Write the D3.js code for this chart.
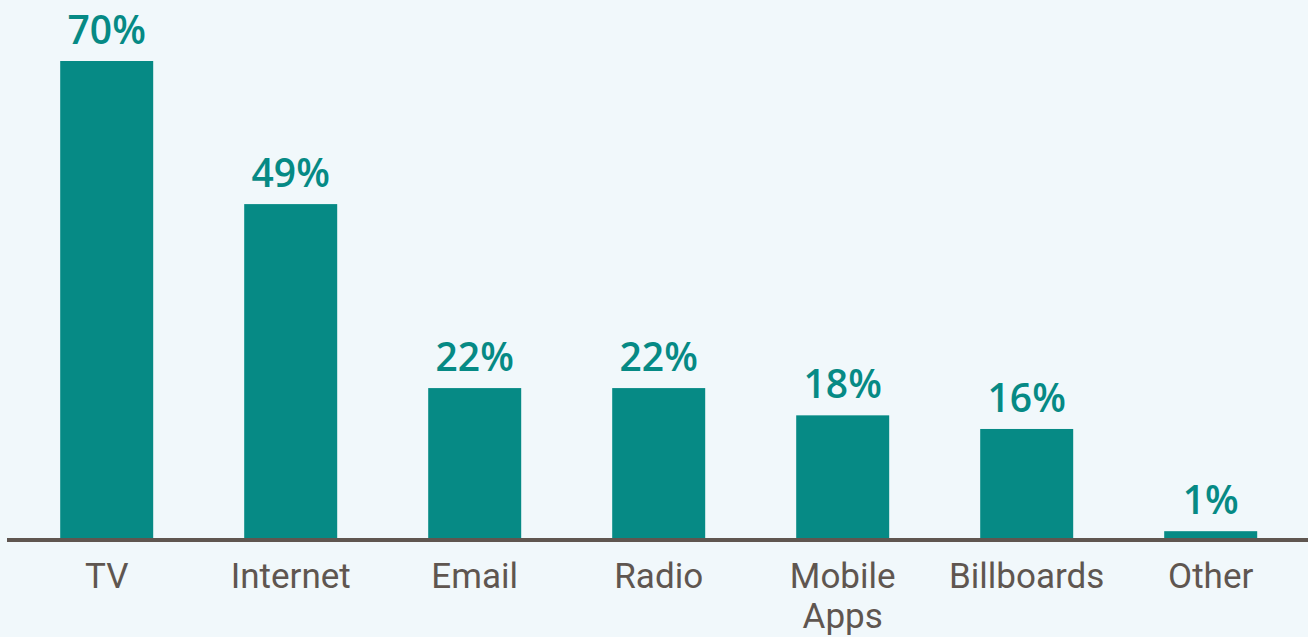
<!DOCTYPE html>
<html>
<head>
<meta charset="utf-8">
<script src="https://cdn.jsdelivr.net/npm/d3@7"></script>
<style>
  html, body { margin: 0; padding: 0; background: #f1f8fb; }
  svg { display: block; }
</style>
</head>
<body>
<svg id="chart" width="1308" height="637"></svg>
<script>
// Share of respondents by advertising channel (%)
const categories = ["TV", "Internet", "Email", "Radio", "Mobile Apps", "Billboards", "Other"];
const values = [70, 49, 22, 22, 18, 16, 1];
const valueLabels = ["70%", "49%", "22%", "22%", "18%", "16%", "1%"];

const width = 1308, height = 637;
const teal = "#068a85";
const axisColor = "#5f5650";

const svg = d3.select("#chart");

const x = d3.scaleBand()
  .domain(categories)
  .range([14.7, 14.7 + 7 * 184])
  .paddingInner(0.4946)
  .paddingOuter(0.2473);

const y = d3.scaleLinear()
  .domain([0, 70])
  .range([538, 61]);

const data = categories.map((c, i) => ({ c, v: values[i], label: valueLabels[i] }));

// Bars
svg.append("g").selectAll("rect")
  .data(data)
  .join("rect")
  .attr("x", d => x(d.c))
  .attr("y", d => y(d.v))
  .attr("width", x.bandwidth())
  .attr("height", d => y(0) - y(d.v) + 2)
  .attr("fill", teal);

// Value labels
svg.append("g").selectAll("text")
  .data(data)
  .join("text")
  .attr("x", d => x(d.c) + x.bandwidth() / 2)
  .attr("y", d => y(d.v) - 17)
  .attr("text-anchor", "middle")
  .attr("font-family", "'Open Sans', sans-serif")
  .attr("font-weight", 600)
  .attr("font-size", 39)
  .attr("fill", teal)
  .text(d => d.label);

// Baseline axis
const axis = d3.axisBottom(x).tickSize(0).tickPadding(0);
const gx = svg.append("g")
  .attr("transform", "translate(0,540)")
  .call(axis);
gx.select(".domain").remove();
gx.append("line")
  .attr("x1", 7).attr("x2", width)
  .attr("y1", 0).attr("y2", 0)
  .attr("stroke", axisColor)
  .attr("stroke-width", 4);

gx.selectAll(".tick text").each(function(d) {
  const t = d3.select(this);
  const words = d.split(" ");
  t.text(null)
    .attr("y", 0)
    .attr("dy", null)
    .attr("fill", axisColor)
    .attr("font-family", "Roboto, sans-serif")
    .attr("font-size", 35)
    .attr("text-anchor", "middle");
  words.forEach((w, i) => {
    t.append("tspan")
      .attr("x", 0)
      .attr("y", 48 + i * 40)
      .text(w);
  });
});
</script>
</body>
</html>
